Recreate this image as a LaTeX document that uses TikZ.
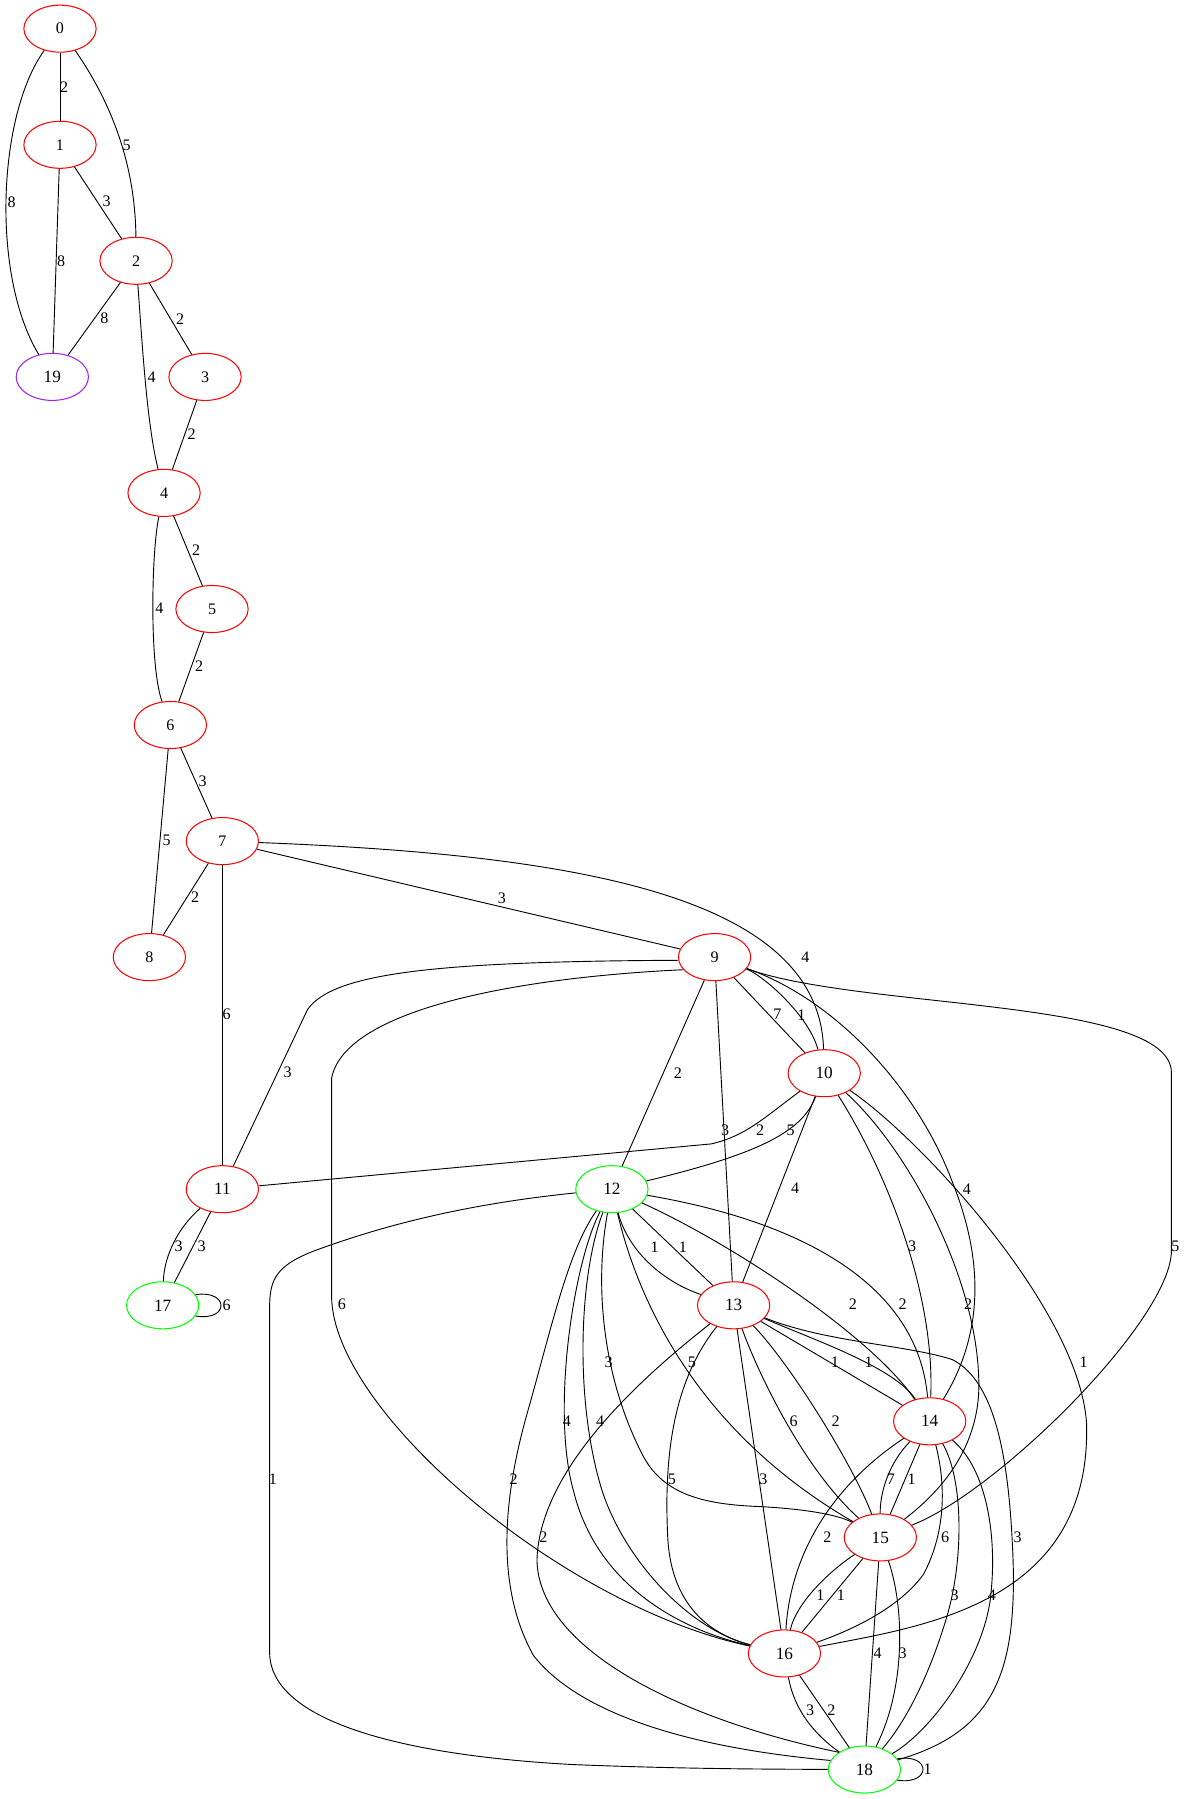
\documentclass[tikz,border=0pt]{standalone}
\usepackage{fontspec}
\setmainfont{Liberation Serif}
\usetikzlibrary{shapes.geometric}
\definecolor{gvred}{RGB}{255,0,0}
\definecolor{gvgreen}{RGB}{0,255,0}
\definecolor{gvpurple}{RGB}{160,32,240}
\begin{document}
\begin{tikzpicture}[x=1pt,y=-1pt,
  nd/.style={ellipse, draw=gvred, line width=0.9pt, minimum width=63pt, minimum height=41pt, inner sep=0pt, font=\fontsize{14}{16}\selectfont},
  ndg/.style={nd, draw=gvgreen},
  ndp/.style={nd, draw=gvpurple},
  big/.style={font=\fontsize{15}{17}\selectfont},
  el/.style={inner sep=0pt, font=\fontsize{14}{16}\selectfont},
  ed/.style={line width=0.8pt, black}]
\useasboundingbox (0,0) rectangle (1035,1568);

% nodes
\node[nd] (n0) at (52.3,25) {0};
\node[nd] (n1) at (52.3,126.2) {1};
\node[nd] (n2) at (118.6,227.3) {2};
\node[ndp,big] (n19) at (45.6,328.5) {19};
\node[nd] (n3) at (178.7,328.5) {3};
\node[nd] (n4) at (143,429.6) {4};
\node[nd] (n5) at (184.8,530.8) {5};
\node[nd] (n6) at (148.5,631.9) {6};
\node[nd] (n7) at (193.8,733.1) {7};
\node[nd] (n8) at (130.2,834.2) {8};
\node[nd] (n9) at (622.8,834.2) {9};
\node[nd,big] (n10) at (718.4,935.4) {10};
\node[nd,big] (n11) at (193.8,1036.5) {11};
\node[ndg,big] (n12) at (533.3,1036.5) {12};
\node[ndg,big] (n17) at (141.8,1137.7) {17};
\node[nd,big] (n13) at (639.4,1137.7) {13};
\node[nd,big] (n14) at (810.3,1238.8) {14};
\node[nd,big] (n15) at (767.3,1340) {15};
\node[nd,big] (n16) at (683.7,1441.1) {16};
\node[ndg,big] (n18) at (753.4,1542.3) {18};

% upper chain
\draw[ed] (n0) -- (n1);
\node[el] (l01) at (55.8,75.6) {2};
\draw[ed] (n0) .. controls (101,95) and (118,150) .. (n2);
\node[el] (l02) at (110.4,126.4) {5};
\draw[ed] (n0) .. controls (-2,100) and (-8,240) .. (n19);
\node[el] (l019) at (10.2,176.4) {8};
\draw[ed] (n1) -- (n19);
\node[el] (l119) at (53.2,228) {8};
\draw[ed] (n1) -- (n2);
\node[el] (l12) at (93,175.8) {3};
\draw[ed] (n2) -- (n19);
\node[el] (l219) at (91,277.5) {8};
\draw[ed] (n2) -- (n3);
\node[el] (l23) at (157,278.4) {2};
\draw[ed] (n2) .. controls (124,300) and (128,370) .. (n4);
\node[el] (l24) at (132.2,328.4) {4};
\draw[ed] (n3) -- (n4);
\node[el] (l34) at (167,378.8) {2};
\draw[ed] (n4) -- (n5);
\node[el] (l45) at (170.9,479.5) {2};
\draw[ed] (n4) .. controls (132,480) and (130,580) .. (n6);
\node[el] (l46) at (139,530.5) {4};
\draw[ed] (n5) -- (n6);
\node[el] (l56) at (173.5,580.5) {2};
\draw[ed] (n6) -- (n7);
\node[el] (l67) at (176.7,681.2) {3};
\draw[ed] (n6) -- (n8);
\node[el] (l68) at (145.3,732.2) {5};
\draw[ed] (n7) -- (n8);
\node[el] (l78) at (170,782.2) {2};
\draw[ed] (n7) -- (n11);
\node[el] (l711) at (197.6,884) {6};
\draw[ed] (n7) -- (n9);
\node[el] (l79) at (437.4,783.3) {3};
\draw[ed] (n7) .. controls (500,745) and (714,780) .. (n10);
\node[el] (l710) at (702,834) {4};

% node 9
\draw[ed] (n9.185) .. controls (380,838) and (290,848) .. (268,880) -- (n11);
\node[el] (l911) at (250.8,935) {3};
\draw[ed] (n9.202) .. controls (450,852) and (300,880) .. (289,940) -- (289,1130) .. controls (290,1230) and (490,1400) .. (n16);
\node[el] (l916) at (298,1137) {6};
\draw[ed] (n9) -- (n10);
\node[el] (l910a) at (677.6,884.4) {7};
\draw[ed] (n9) .. controls (665,850) and (705,885) .. (n10);
\node[el] (l910b) at (698.5,884.4) {1};
\draw[ed] (n9) -- (n12);
\node[el] (l912) at (590.8,935) {2};
\draw[ed] (n9) -- (n13);
\node[el] (l913) at (632,985.2) {3};
\draw[ed] (n9) .. controls (730,872) and (800,950) .. (830,1030) .. controls (850,1080) and (865,1150) .. (n14);
\node[el] (l914) at (842.8,1036.1) {4};
\draw[ed] (n9) .. controls (750,880) and (1021,870) .. (1021,935) -- (1021,1090) .. controls (1021,1150) and (870,1300) .. (n15);
\node[el] (l915) at (1024.4,1086.1) {5};

% node 10
\draw[ed] (n10) .. controls (665,975) and (650,990) .. (620,997) -- (n11);
\node[el] (l1011) at (662.6,985.2) {2};
\draw[ed] (n10) .. controls (700,985) and (665,1005) .. (n12);
\node[el] (l1012) at (689,985) {5};
\draw[ed] (n10) -- (n13);
\node[el] (l1013) at (693,1036) {4};
\draw[ed] (n10) .. controls (775,1025) and (815,1130) .. (n14);
\node[el] (l1014) at (794.9,1086.1) {3};
\draw[ed] (n10) .. controls (790,1000) and (850,1110) .. (853,1200) .. controls (856,1260) and (820,1300) .. (n15);
\node[el] (l1015) at (843.9,1137) {2};
\draw[ed] (n10) .. controls (800,990) and (940,1140) .. (947,1240) .. controls (952,1400) and (800,1418) .. (n16);
\node[el] (l1016) at (944.5,1187.2) {1};

% node 11 / 17
\draw[ed] (n11) .. controls (155,1070) and (143,1095) .. (n17);
\node[el] (l1117a) at (155.8,1086.3) {3};
\draw[ed] (n11) -- (n17);
\node[el] (l1117b) at (175.8,1086.3) {3};
\draw[ed] (n17.18) .. controls (200,1124) and (200,1152) .. (n17.-18);
\node[el] (l1717) at (197.6,1137.4) {6};

% node 12
\draw[ed] (n12) -- (n13);
\node[el] (l1213b) at (595.2,1087) {1};
\draw[ed] (n12) .. controls (548,1092) and (580,1118) .. (n13);
\node[el] (l1213a) at (570.5,1087) {1};
\draw[ed] (n12) .. controls (640,1085) and (760,1165) .. (n14);
\node[el] (l1214a) at (743.4,1137) {2};
\draw[ed] (n12) .. controls (700,1065) and (800,1120) .. (n14);
\node[el] (l1214b) at (786.8,1137) {2};
\draw[ed] (n12) .. controls (518,1120) and (525,1200) .. (560,1268) .. controls (577,1301) and (610,1311) .. (660,1313) .. controls (700,1315) and (730,1320) .. (n15);
\node[el] (l1215a) at (530.4,1187.2) {3};
\draw[ed] (n12) .. controls (560,1150) and (620,1255) .. (n15);
\node[el] (l1215b) at (603,1187.2) {5};
\draw[ed] (n12) .. controls (500,1100) and (480,1230) .. (500,1300) .. controls (520,1380) and (590,1420) .. (n16);
\node[el] (l1216a) at (494,1238.7) {4};
\draw[ed] (n12) .. controls (505,1110) and (500,1220) .. (525,1300) .. controls (545,1360) and (600,1420) .. (n16);
\node[el] (l1216b) at (523.1,1238.7) {4};
\draw[ed] (n12) .. controls (400,1050) and (330,1070) .. (280,1088) .. controls (240,1102) and (235,1115) .. (235,1140) -- (235,1440) .. controls (235,1500) and (350,1530) .. (500,1538) .. controls (600,1542) and (680,1542) .. (n18);
\node[el] (l1218a) at (237.8,1289) {1};
\draw[ed] (n12) .. controls (495,1090) and (480,1160) .. (460,1230) .. controls (440,1300) and (430,1380) .. (465,1443) .. controls (510,1500) and (620,1525) .. (n18.165);
\node[el] (l1218b) at (447.6,1289) {2};

% node 13
\draw[ed] (n13) .. controls (560,1200) and (470,1280) .. (468,1360) .. controls (470,1440) and (600,1500) .. (n18.146);
\node[el] (l1318a) at (473.7,1339.8) {2};
\draw[ed] (n13) .. controls (590,1200) and (578,1260) .. (582,1340) .. controls (585,1400) and (620,1425) .. (n16);
\node[el] (l1316a) at (585.6,1289) {5};
\draw[ed] (n13) -- (n16);
\node[el] (l1316b) at (665.3,1289) {3};
\draw[ed] (n13) .. controls (660,1195) and (700,1280) .. (n15);
\node[el] (l1315a) at (691.7,1238.7) {6};
\draw[ed] (n13) .. controls (690,1190) and (745,1280) .. (n15);
\node[el] (l1315b) at (728.3,1238.7) {2};
\draw[ed] (n13) -- (n14);
\node[el] (l1314a) at (727.7,1187.5) {1};
\draw[ed] (n13) .. controls (710,1168) and (780,1192) .. (n14);
\node[el] (l1314b) at (757,1187.5) {1};
\draw[ed] (n13) .. controls (720,1170) and (790,1172) .. (830,1185) .. controls (870,1205) and (880,1280) .. (883,1360) .. controls (886,1460) and (865,1510) .. (n18);
\node[el] (l1318b) at (887,1339.8) {3};

% node 14
\draw[ed] (n14) .. controls (775,1275) and (767,1300) .. (n15);
\node[el] (l1415a) at (776.4,1289) {7};
\draw[ed] (n14) -- (n15);
\node[el] (l1415b) at (794.5,1289) {1};
\draw[ed] (n14) .. controls (740,1285) and (690,1340) .. (n16);
\node[el] (l1416a) at (721.2,1339.8) {2};
\draw[ed] (n14) .. controls (826,1300) and (822,1340) .. (805,1372) .. controls (785,1400) and (745,1420) .. (n16);
\node[el] (l1416b) at (823.7,1339.8) {6};
\draw[ed] (n14) .. controls (840,1290) and (840,1360) .. (825,1410) .. controls (810,1460) and (790,1500) .. (n18);
\node[el] (l1418a) at (832,1390.7) {3};
\draw[ed] (n14) .. controls (860,1280) and (870,1340) .. (863,1395) .. controls (855,1450) and (810,1510) .. (n18);
\node[el] (l1418b) at (864.5,1390.7) {4};

% node 15
\draw[ed] (n15) .. controls (725,1368) and (695,1395) .. (n16);
\node[el] (l1516a) at (715,1390.7) {1};
\draw[ed] (n15) -- (n16);
\node[el] (l1516b) at (733,1390.7) {1};
\draw[ed] (n15) -- (n18);
\node[el] (l1518a) at (765,1440.9) {4};
\draw[ed] (n15) .. controls (788,1400) and (790,1470) .. (n18);
\node[el] (l1518b) at (786.8,1440.9) {3};

% node 16 / 18
\draw[ed] (n16) .. controls (692,1490) and (710,1512) .. (n18);
\node[el] (l1618a) at (706,1490.9) {3};
\draw[ed] (n16) -- (n18);
\node[el] (l1618b) at (724.7,1490.9) {2};
\draw[ed] (n18.18) .. controls (812,1528) and (812,1556) .. (n18.-18);
\node[el] (l1818) at (808.5,1542) {1};
\end{tikzpicture}
\end{document}
